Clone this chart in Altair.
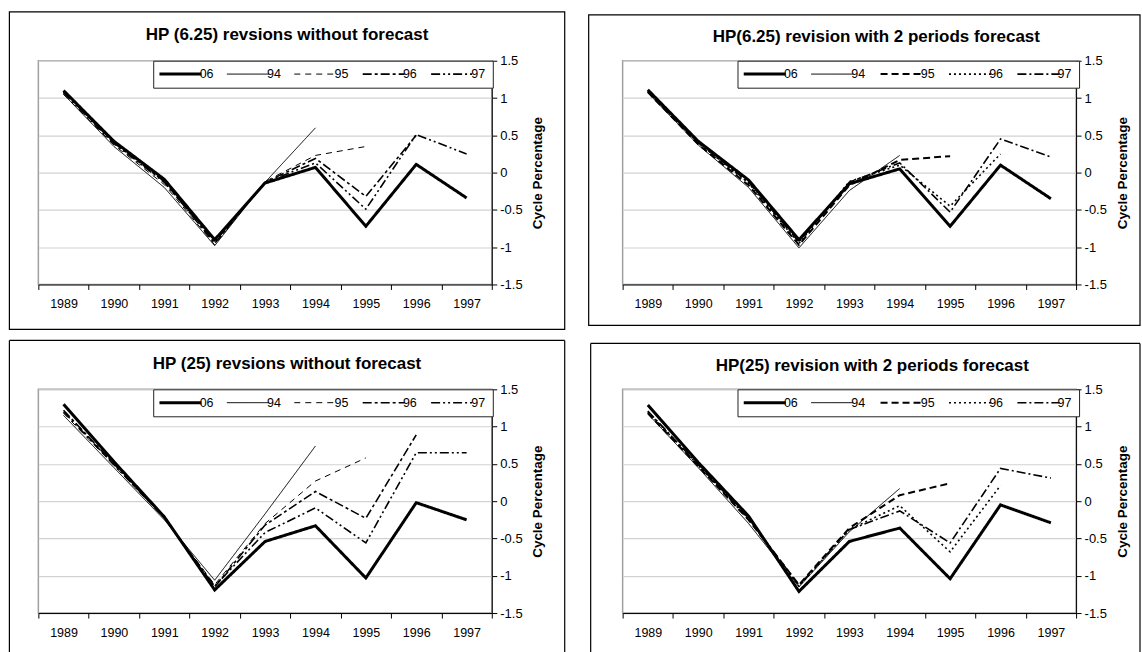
import altair as alt
import pandas as pd

FONT = "Liberation Sans, Arial, Helvetica, sans-serif"

YEARS = [1989, 1990, 1991, 1992, 1993, 1994, 1995, 1996, 1997]
SERIES = ["06", "94", "95", "96", "97"]
Y_TICKS = [-1.5, -1, -0.5, 0, 0.5, 1, 1.5]

TITLES = [
    "HP (6.25) revsions without forecast",
    "HP(6.25) revision with 2 periods forecast",
    "HP (25) revsions without forecast",
    "HP(25) revision with 2 periods forecast",
]

# HP(6.25), revisions without forecast
hp625_nf_06 = [1.10, 0.42, -0.09, -0.90, -0.14, 0.07, -0.72, 0.11, -0.34]
hp625_nf_94 = [1.05, 0.35, -0.20, -0.98, -0.13, 0.60]
hp625_nf_95 = [1.05, 0.37, -0.16, -0.97, -0.12, 0.23, 0.35]
hp625_nf_96 = [1.08, 0.40, -0.12, -0.95, -0.13, 0.19, -0.32, 0.50]
hp625_nf_97 = [1.07, 0.39, -0.13, -0.93, -0.13, 0.13, -0.49, 0.51, 0.25]

# HP(6.25), revisions with 2 periods forecast
hp625_fc_06 = [1.11, 0.42, -0.10, -0.90, -0.15, 0.05, -0.72, 0.10, -0.35]
hp625_fc_94 = [1.07, 0.37, -0.20, -1.01, -0.24, 0.23]
hp625_fc_95 = [1.08, 0.38, -0.17, -0.97, -0.17, 0.17, 0.22]
hp625_fc_96 = [1.08, 0.40, -0.14, -0.95, -0.12, 0.10, -0.45, 0.25]
hp625_fc_97 = [1.09, 0.40, -0.13, -0.93, -0.13, 0.13, -0.53, 0.45, 0.21]

# HP(25), revisions without forecast
hp25_nf_06 = [1.30, 0.53, -0.21, -1.19, -0.54, -0.33, -1.03, -0.02, -0.25]
hp25_nf_94 = [1.15, 0.45, -0.25, -1.06, -0.17, 0.74]
hp25_nf_95 = [1.18, 0.48, -0.23, -1.12, -0.30, 0.27, 0.58]
hp25_nf_96 = [1.22, 0.50, -0.22, -1.15, -0.32, 0.13, -0.23, 0.89]
hp25_nf_97 = [1.20, 0.49, -0.22, -1.14, -0.42, -0.09, -0.56, 0.65, 0.65]

# HP(25), revisions with 2 periods forecast
hp25_fc_06 = [1.29, 0.52, -0.20, -1.21, -0.54, -0.36, -1.04, -0.05, -0.29]
hp25_fc_94 = [1.17, 0.45, -0.30, -1.15, -0.41, 0.17]
hp25_fc_95 = [1.18, 0.47, -0.25, -1.12, -0.36, 0.08, 0.24]
hp25_fc_96 = [1.20, 0.48, -0.24, -1.14, -0.38, -0.06, -0.68, 0.21]
hp25_fc_97 = [1.21, 0.49, -0.23, -1.13, -0.38, -0.13, -0.56, 0.44, 0.31]

# line styles: without-forecast panels / with-forecast panels
DASH_NF = [[1, 0], [1, 0], [6, 5], [9, 3, 3, 3], [9, 3, 2, 3, 2, 3]]
WIDTH_NF = [3, 1, 1, 1.6, 1.6]
DASH_FC = [[1, 0], [1, 0], [7, 4], [2, 3], [9, 3, 2, 3]]
WIDTH_FC = [3, 1, 2, 1.6, 1.6]

W, H = 454, 224


def long_table(series_lists, widths):
    rows = []
    for name, vals, w in zip(SERIES, series_lists, widths):
        for yr, v in zip(YEARS, vals):
            rows.append({"year": yr, "value": v, "series": name, "w": w})
    return pd.DataFrame(rows)


def frame(left, right, top, bottom, closed):
    one = alt.Data(values=[{"f": 0}])
    if closed:
        return [
            alt.Chart(one)
            .mark_rect(fill="white", fillOpacity=0, stroke="black", strokeWidth=1.2)
            .encode(x=alt.value(left), x2=alt.value(right),
                    y=alt.value(top), y2=alt.value(bottom))
        ]
    rule = dict(color="black", strokeWidth=1.2)
    return [
        alt.Chart(one).mark_rule(**rule).encode(
            x=alt.value(left), x2=alt.value(right), y=alt.value(top)),
        alt.Chart(one).mark_rule(**rule).encode(
            x=alt.value(left), y=alt.value(top), y2=alt.value(bottom)),
        alt.Chart(one).mark_rule(**rule).encode(
            x=alt.value(right), y=alt.value(top), y2=alt.value(bottom)),
    ]


def panel(df, title, dashes, widths, box, closed, title_x, title_y):
    width_expr = " : ".join(
        f"datum.value === '{s}' ? {w}" for s, w in zip(SERIES[:-1], widths[:-1])
    ) + f" : {widths[-1]}"

    x_axis = alt.Axis(
        values=[1988.5 + 0.5 * i for i in range(19)],
        labelExpr="datum.value % 1 === 0 ? toString(datum.value) : ''",
        tickOpacity={"condition": {"test": "datum.value % 1 === 0", "value": 0}, "value": 1},
        grid=False, domainColor="black", domainWidth=1, tickColor="black",
        tickSize=5, labelFontSize=12.5, labelColor="black", labelFont=FONT,
        labelPadding=8, labelFlush=False, labelOverlap=False, title=None,
    )
    y_axis = alt.Axis(
        orient="right", values=Y_TICKS, labelExpr="toString(datum.value)",
        grid=True, gridColor="#d2d2d2", gridWidth=1.2,
        domainColor="black", domainWidth=1, tickColor="black", tickSize=5,
        labelFontSize=13, labelColor="black", labelFont=FONT, labelPadding=3,
        labelFlush=False, labelOverlap=False,
        title="Cycle Percentage", titleFont=FONT, titleFontSize=13.5,
        titleFontWeight="bold", titleColor="black", titleAngle=270,
        titleX=46, titleY=H / 2, titleAlign="center", titleBaseline="middle",
    )
    legend = alt.Legend(
        orient="none", legendX=115, legendY=0, direction="horizontal", title=None,
        fillColor="white", strokeColor="#222222", padding=7,
        symbolType="stroke", symbolSize=1764, symbolStrokeColor="black",
        symbolStrokeWidth=alt.ExprRef(expr=width_expr), symbolOffset=14,
        labelFontSize=12.5, labelFont=FONT, labelColor="black", labelOffset=13,
        columnPadding=10.5,
    )

    lines = alt.Chart(df).mark_line(color="black").encode(
        x=alt.X("year:Q", scale=alt.Scale(domain=[1988.5, 1997.5], nice=False, zero=False), axis=x_axis),
        y=alt.Y("value:Q", scale=alt.Scale(domain=[-1.5, 1.5], nice=False, zero=False), axis=y_axis),
        strokeDash=alt.StrokeDash("series:N", scale=alt.Scale(domain=SERIES, range=dashes), legend=legend),
        strokeWidth=alt.StrokeWidth("w:Q", scale=None, legend=None),
    )

    heading = alt.Chart(alt.Data(values=[{"t": title}])).mark_text(
        font=FONT, fontSize=17, fontWeight="bold", color="black",
        align="center", baseline="middle",
    ).encode(x=alt.value(title_x), y=alt.value(title_y), text="t:N")

    left, right, top, bottom = box
    return alt.layer(*frame(left, right, top, bottom, closed), heading, lines).properties(
        width=W, height=H
    )


p1 = panel(long_table([hp625_nf_06, hp625_nf_94, hp625_nf_95, hp625_nf_96, hp625_nf_97], WIDTH_NF),
           TITLES[0], DASH_NF, WIDTH_NF, (-29, W + 73, -49, H + 45), True, 249, -26)
p2 = panel(long_table([hp625_fc_06, hp625_fc_94, hp625_fc_95, hp625_fc_96, hp625_fc_97], WIDTH_FC),
           TITLES[1], DASH_FC, WIDTH_FC, (-34, W + 64, -46, H + 41), True, 254, -24)
p3 = panel(long_table([hp25_nf_06, hp25_nf_94, hp25_nf_95, hp25_nf_96, hp25_nf_97], WIDTH_NF),
           TITLES[2], DASH_NF, WIDTH_NF, (-29, W + 73, -49, 263), False, 249, -25)
p4 = panel(long_table([hp25_fc_06, hp25_fc_94, hp25_fc_95, hp25_fc_96, hp25_fc_97], WIDTH_FC),
           TITLES[3], DASH_FC, WIDTH_FC, (-32, W + 64, -46, 263), False, 250, -23)

chart = (
    alt.concat(p1, p2, p3, p4, columns=2, spacing={"row": 105, "column": 131}, bounds="flush")
    .resolve_scale(strokeDash="independent")
    .resolve_legend(strokeDash="independent")
    .properties(padding={"left": 7.4, "top": 9.4, "right": 0, "bottom": 0}, background="white")
    .configure_view(stroke="#a0a0a0", strokeWidth=1.5)
)

chart.save("out.html", embed_options={"renderer": "svg", "actions": False})
